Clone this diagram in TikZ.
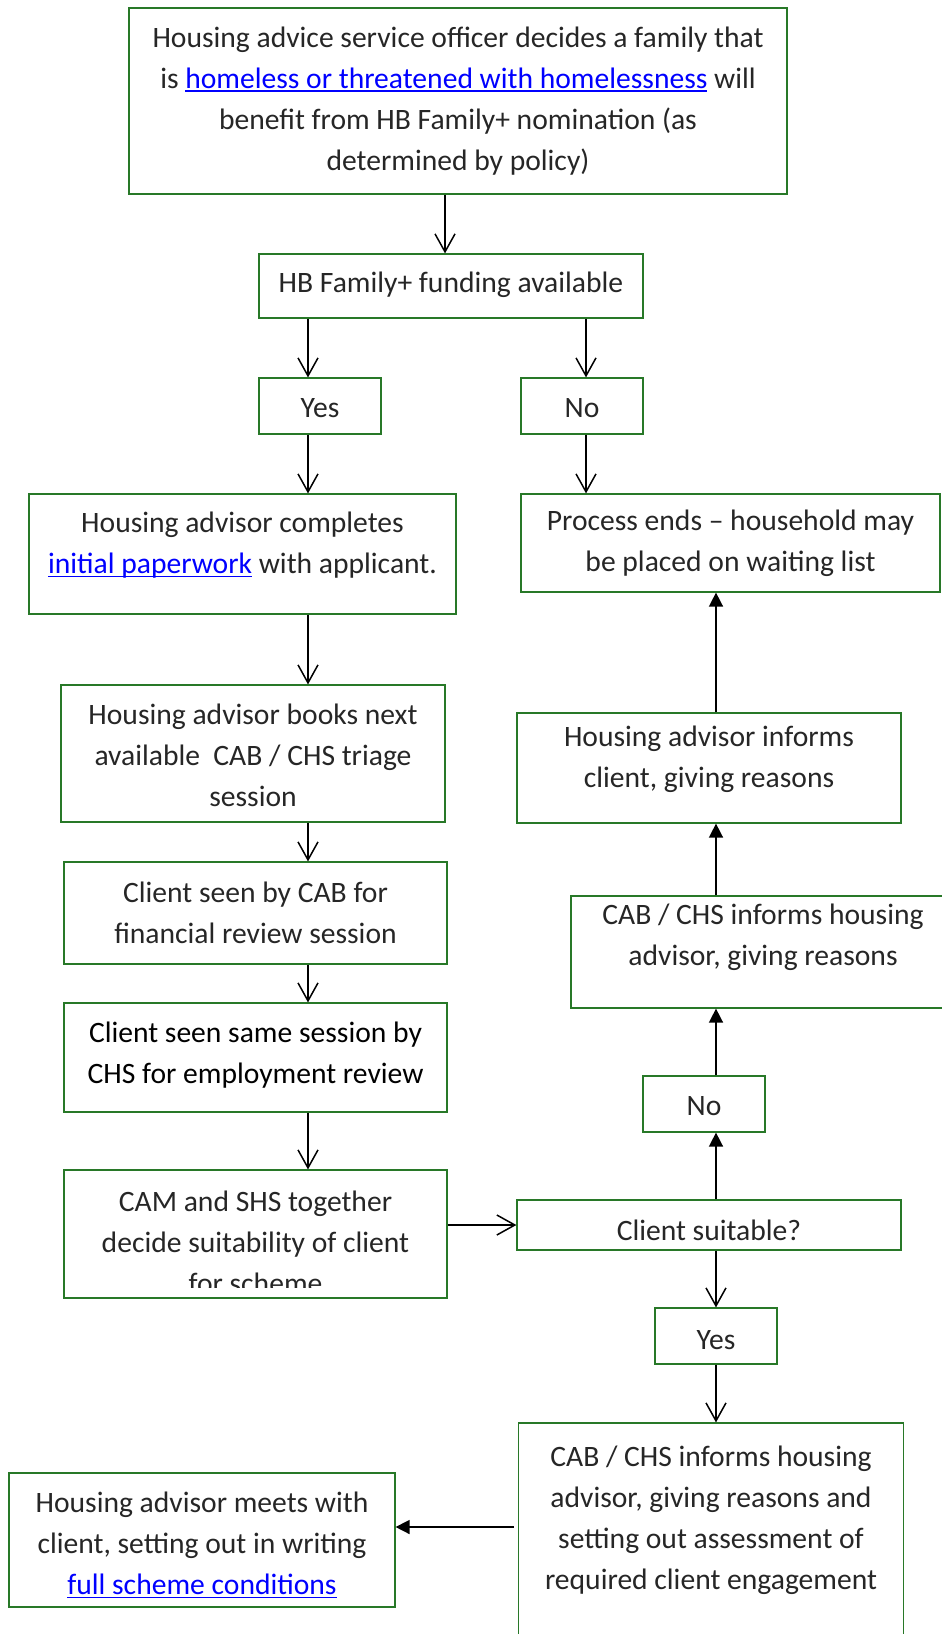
\documentclass[tikz,border=0pt]{standalone}
\usepackage{fontspec}
\setmainfont{Carlito}
\usetikzlibrary{arrows.meta}

\definecolor{boxgreen}{RGB}{40,120,40}
\definecolor{txtgrey}{RGB}{38,38,38}
\definecolor{linkblue}{RGB}{0,0,255}
\newcommand{\lnk}[1]{\textcolor{linkblue}{\setbox0\hbox{#1}\rlap{\rule[-3.5pt]{\wd0}{1.5pt}}\box0}}

\begin{document}
\begin{tikzpicture}[x = 1pt, y = -1pt, line width = 1.5pt,
                        box/.style = {draw = boxgreen, line width = 1.2pt, inner sep = 0pt},
                        txt/.style = {align = center, text = txtgrey, inner sep = 0pt,
                                      font = \fontsize{29.6}{41}\selectfont},
                        openarr/.style = {-{Straight Barb[length = 18pt, width = 20pt]}},
                        fillarr/.style = {-{Triangle[length = 14pt, width = 14pt]}}]
      \useasboundingbox (0, 0) rectangle (942, 1634);

      % columns and rows the connectors run along
      \coordinate (mcol) at (445, 0);
      \coordinate (lcol) at (308, 0);
      \coordinate (ncol) at (586, 0);
      \coordinate (rcol) at (716, 0);
      \coordinate (brow) at (0, 1527);

      % boxes
      \node [box, minimum width = 658pt, minimum height = 186pt] (top) at (458, 101){};
      \node [box, minimum width = 384pt, minimum height = 64pt] (hb) at (451, 286){};
      \node [box, minimum width = 122pt, minimum height = 56pt] (yesA) at (320, 406){};
      \node [box, minimum width = 122pt, minimum height = 56pt] (noA) at (582, 406){};
      \node [box, minimum width = 427pt, minimum height = 120pt] (paper) at (242.5, 554){};
      \node [box, minimum width = 419pt, minimum height = 98pt] (ends) at (730.5, 543){};
      \node [box, minimum width = 384pt, minimum height = 137pt] (books) at (253, 753.5){};
      \node [box, minimum width = 383pt, minimum height = 102pt] (cab) at (255.5, 913){};
      \node [box, minimum width = 383pt, minimum height = 109pt] (chs) at (255.5, 1057.5){};
      \node [box, minimum width = 383pt, minimum height = 128pt] (cam) at (255.5, 1234){};
      \node [box, minimum width = 384pt, minimum height = 110pt] (informs) at (709, 768){};
      \node [box, minimum width = 384pt, minimum height = 112pt] (reasons) at (763, 952){};
      \node [box, minimum width = 122pt, minimum height = 56pt] (noB) at (704, 1104){};
      \node [box, minimum width = 384pt, minimum height = 50pt] (suit) at (709, 1225){};
      \node [box, minimum width = 122pt, minimum height = 56pt] (yesB) at (716, 1336){};
      \node [box, minimum width = 385pt, minimum height = 300pt] (assess) at (711, 1573){};
      \node [box, minimum width = 386pt, minimum height = 134pt] (meets) at (202, 1540){};

      % texts
      \node [txt] (top-t) at (458, 101){Housing advice service officer decides a family that\\
            is \lnk{homeless or threatened with homelessness} will\\
            benefit from HB Family+ nomination (as\\ determined by policy)};
      \node [txt] (hb-t) at (451, 285){HB Family+ funding available};
      \node [txt] (yesA-t) at (320, 408){Yes};
      \node [txt] (noA-t) at (582, 408){No};
      \node [txt] (paper-t) at (242.5, 545.5){Housing advisor completes\\
            \lnk{initial paperwork} with applicant.};
      \node [txt] (ends-t) at (730.5, 543){Process ends – household may\\ be placed on waiting list};
      \node [txt] (books-t) at (253, 755.5){Housing advisor books next\\
            available \ CAB / CHS triage\\ session};
      \node [txt] (cab-t) at (255.5, 913){Client seen by CAB for\\ financial review session};
      \node [txt, text = black] (chs-t) at (255.5, 1055.5){Client seen same session by\\
            CHS for employment review};
      \begin{scope}
        \clip (64, 1170) rectangle (447, 1287);
        \node [txt] (cam-t) at (255.5, 1242){CAM and SHS together\\
              decide suitability of client\\ for scheme};
      \end{scope}
      \node [txt] (informs-t) at (709, 759.5){Housing advisor informs\\ client, giving reasons};
      \node [txt] (reasons-t) at (763, 937.5){CAB / CHS informs housing\\ advisor, giving reasons};
      \node [txt] (noB-t) at (704, 1106){No};
      \node [txt] (suit-t) at (709, 1230){Client suitable?};
      \node [txt] (yesB-t) at (716, 1340){Yes};
      \node [txt] (assess-t) at (711, 1520){CAB / CHS informs housing\\
            advisor, giving reasons and\\ setting out assessment of\\ required client engagement};
      \node [txt] (meets-t) at (202, 1545){Housing advisor meets with\\
            client, setting out in writing\\ \lnk{full scheme conditions}};

      % connectors
      \draw [openarr] (top.south -| mcol) -- (hb.north -| mcol);
      \draw [openarr] (hb.south -| lcol) -- (yesA.north -| lcol);
      \draw [openarr] (hb.south -| ncol) -- (noA.north -| ncol);
      \draw [openarr] (yesA.south -| lcol) -- (paper.north -| lcol);
      \draw [openarr] (noA.south -| ncol) -- (ends.north -| ncol);
      \draw [openarr] (paper.south -| lcol) -- (books.north -| lcol);
      \draw [openarr] (books.south -| lcol) -- (cab.north -| lcol);
      \draw [openarr] (cab.south -| lcol) -- (chs.north -| lcol);
      \draw [openarr] (chs.south -| lcol) -- (cam.north -| lcol);
      \draw [openarr] (cam.east |- suit.west) -- (suit.west);
      \draw [fillarr] (suit.north -| rcol) -- (noB.south -| rcol);
      \draw [fillarr] (noB.north -| rcol) -- (reasons.south -| rcol);
      \draw [fillarr] (reasons.north -| rcol) -- (informs.south -| rcol);
      \draw [fillarr] (informs.north -| rcol) -- (ends.south -| rcol);
      \draw [openarr] (suit.south -| rcol) -- (yesB.north -| rcol);
      \draw [openarr] (yesB.south -| rcol) -- (assess.north -| rcol);
      \draw [fillarr] ([xshift = -4pt]assess.west |- brow) -- (meets.east |- brow);
\end{tikzpicture}
\end{document}
